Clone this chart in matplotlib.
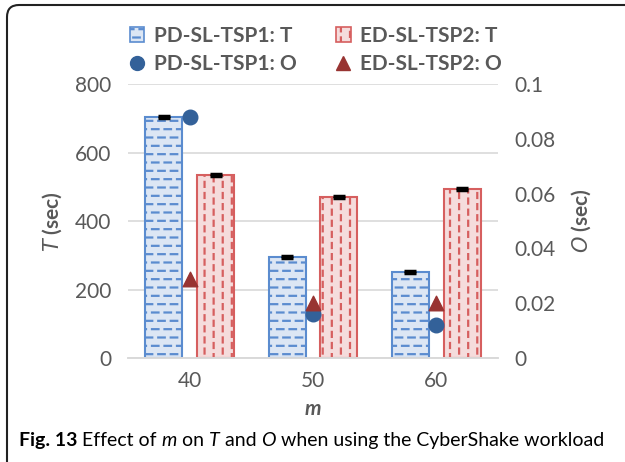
import numpy as np
import matplotlib
matplotlib.use('Agg')
import matplotlib.pyplot as plt
from matplotlib import hatch as mhatch
from matplotlib.path import Path
from matplotlib.patches import FancyBboxPatch, Patch
from matplotlib.lines import Line2D

# data
m_values = ['40', '50', '60']
T_pd = [705, 295, 250]
T_ed = [535, 470, 493]
T_pd_err = [3, 3, 3]
T_ed_err = [3, 3, 3]
O_pd = [0.088, 0.016, 0.012]
O_ed = [0.029, 0.020, 0.020]


# custom dashed hatch patterns (Excel-like dashed horizontal / vertical)
def dash_segments(n_lines, n_dash, length, vertical):
    segs = []
    for i in range(n_lines):
        pos = (i + 0.5) / n_lines
        shift = 0.5 / n_dash if i % 2 else 0.0
        for j in range(n_dash):
            a = 0.02 + shift + j / n_dash
            b = a + length
            a, b = a % 1.0, b % 1.0
            parts = [(a, b)] if a < b else [(a, 1.0), (0.0, b)]
            for p0, p1 in parts:
                if vertical:
                    segs.append(((pos, p0), (pos, p1)))
                else:
                    segs.append(((p0, pos), (p1, pos)))
    return segs


class DashHatch(mhatch.HatchPatternBase):
    def __init__(self, hatch, density):
        self.segs = []
        if 'd' in hatch:
            self.segs = dash_segments(12, 8, 0.065, False)
        elif 'v' in hatch:
            self.segs = dash_segments(11, 9, 0.05, True)
        self.num_vertices = 2 * len(self.segs)

    def set_vertices_and_codes(self, vertices, codes):
        for k, (p0, p1) in enumerate(self.segs):
            vertices[2 * k] = p0
            vertices[2 * k + 1] = p1
            codes[2 * k] = Path.MOVETO
            codes[2 * k + 1] = Path.LINETO


mhatch._hatch_types.append(DashHatch)

plt.rcParams['font.family'] = ['Lato', 'DejaVu Sans']
plt.rcParams['hatch.linewidth'] = 1.6
plt.rcParams['mathtext.fontset'] = 'custom'
plt.rcParams['mathtext.bfit'] = 'Lato:bold:italic'

blue_edge = '#5b8ccf'
blue_fill = '#dce6f4'
red_edge = '#d65f5f'
red_fill = '#f5dcdc'
circle_c = '#336199'
tri_c = '#983432'
gray = '#595959'

fig = plt.figure(figsize=(6.25, 4.62), dpi=100)
ax = fig.add_axes([0.2048, 0.225, 0.592, 0.593])
ax2 = ax.twinx()

x = np.arange(len(m_values))
w = 0.3
off = 0.21

ax.bar(x - off, T_pd, w, color=blue_fill, edgecolor=blue_edge,
       hatch='d', linewidth=1.5, zorder=2)
ax.bar(x + off, T_ed, w, color=red_fill, edgecolor=red_edge,
       hatch='v', linewidth=1.5, zorder=2)
ax.errorbar(x - off, T_pd, yerr=T_pd_err, fmt='none', ecolor='black',
            capsize=4, capthick=2.5, elinewidth=1, zorder=3)
ax.errorbar(x + off, T_ed, yerr=T_ed_err, fmt='none', ecolor='black',
            capsize=4, capthick=2.5, elinewidth=1, zorder=3)

ax2.scatter(x, O_pd, s=110, marker='o', color=circle_c, zorder=4)
ax2.scatter(x, O_ed, s=110, marker='^', color=tri_c, zorder=4)

ax.set_xlim(-0.5, 2.5)
ax.set_ylim(0, 800)
ax.set_yticks([0, 200, 400, 600, 800])
ax2.set_ylim(0, 0.1)
ax2.set_yticks([0, 0.02, 0.04, 0.06, 0.08, 0.1])
ax2.set_yticklabels(['0', '0.02', '0.04', '0.06', '0.08', '0.1'])
ax.set_xticks(x)
ax.set_xticklabels(m_values)

ax.grid(axis='y', color='#d9d9d9', linewidth=1.2, zorder=0)
ax.set_axisbelow(True)
for a in (ax, ax2):
    for s in ['top', 'left', 'right']:
        a.spines[s].set_visible(False)
    a.spines['bottom'].set_color('#d9d9d9')
    a.spines['bottom'].set_linewidth(1.2)
    a.tick_params(length=0, labelsize=15, labelcolor=gray)
ax.tick_params(axis='y', pad=12)
ax2.tick_params(axis='y', pad=12)
ax.tick_params(axis='x', pad=9)

ax.set_ylabel(r'$\bf\it{T}$ (sec)', fontsize=15, fontweight='bold', color=gray, labelpad=8)
ax2.set_ylabel(r'$\bf\it{O}$ (sec)', fontsize=15, fontweight='bold', color=gray, labelpad=10)
ax.set_xlabel('m', fontsize=15, fontweight='bold', fontstyle='italic', color=gray, labelpad=6)

handles = [
    Patch(facecolor=blue_fill, edgecolor=blue_edge, hatch='d', linewidth=1.2),
    Line2D([], [], marker='o', color=circle_c, linestyle='none', markersize=10),
    Patch(facecolor=red_fill, edgecolor=red_edge, hatch='v', linewidth=1.2),
    Line2D([], [], marker='^', color=tri_c, linestyle='none', markersize=10),
]
labels = ['PD-SL-TSP1: T', 'PD-SL-TSP1: O', 'ED-SL-TSP2: T', 'ED-SL-TSP2: O']
leg = fig.legend(handles, labels, ncol=2, loc='upper center', bbox_to_anchor=(0.505, 0.985),
                 frameon=False, prop={'size': 15, 'weight': 'bold'},
                 handlelength=0.7, handleheight=0.7, handletextpad=0.45,
                 columnspacing=1.9, labelspacing=0.4)
for t in leg.get_texts():
    t.set_color(gray)

# caption, built piece by piece
prev = fig.text(0.03, 0.035, 'Fig. 13', fontsize=14, fontweight='bold', color='black')
pieces = [(' Effect of ', 'normal'), ('m', 'italic'), (' on ', 'normal'), ('T', 'italic'),
          (' and ', 'normal'), ('O', 'italic'), (' when using the CyberShake workload', 'normal')]
for txt, style in pieces:
    prev = ax.annotate(txt, xy=(1, 0), xycoords=prev, va='bottom', ha='left',
                       fontsize=14, fontstyle=style, color='black', annotation_clip=False)

# rounded frame
frame = FancyBboxPatch((0.07, -0.3), 7.0, 4.62 - 0.05 + 0.3,
                       boxstyle='round,pad=0,rounding_size=0.12',
                       transform=fig.dpi_scale_trans, facecolor='none',
                       edgecolor='#222222', linewidth=1.5, clip_on=False)
fig.patches.append(frame)

fig.savefig('out.png', dpi=100)
